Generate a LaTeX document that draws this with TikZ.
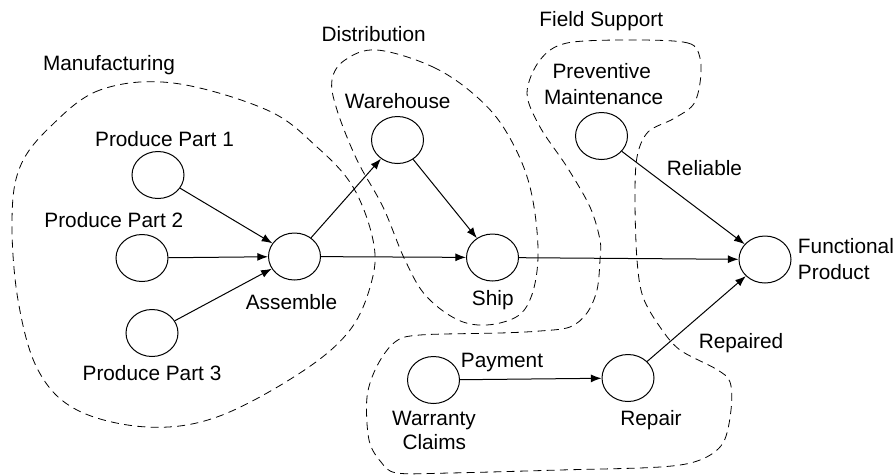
\documentclass[tikz,border=0pt]{standalone}
\usepackage{fontspec}
\setmainfont{Liberation Sans}
\usetikzlibrary{shapes.geometric,arrows.meta}
\newcommand\lblfont{\fontsize{15.6pt}{19pt}\selectfont}
\tikzset{
  proc/.style={ellipse, draw, line width=0.75pt, minimum width=39pt,
    minimum height=35.25pt, inner sep=0pt},
  lbl/.style={anchor=base, inner sep=0pt, font=\lblfont},
  lblw/.style={anchor=base west, inner sep=0pt, font=\lblfont},
  arr/.style={-{Latex[length=8pt,width=6pt]}, line width=0.75pt},
  region/.style={dashed, dash pattern=on 6pt off 4pt, line width=0.6pt}
}
\begin{document}
\begin{tikzpicture}[x=0.75pt, y=-0.75pt]
\useasboundingbox (0,0) rectangle (896,475);

% ---- group outlines ----
\draw[region] plot[smooth cycle, tension=0.6] coordinates {
  (173,83) (100,90) (50,127) (20,167) (12,220) (18,300) (38,370) (77,410)
  (147,427) (217,417) (300,373) (350,330) (372,280) (373,240) (353,187)
  (317,147) (267,110)};
\draw[region] plot[smooth cycle, tension=0.6] coordinates {
  (377,50) (433,67) (477,97) (507,133) (530,187) (538,257) (527,306)
  (500,323) (463,322) (427,297) (405,260) (383,207) (357,160) (337,110)
  (332,80) (345,60)};
\draw[region] plot[smooth cycle, tension=0.55] coordinates {
  (633,40) (688,43) (700,58) (700,83) (693,105) (673,119) (648,132)
  (637,157) (635,200) (637,260) (643,297) (660,327) (680,350) (716,369)
  (730,382) (731,410) (723,443) (700,460) (660,467) (560,470) (450,473)
  (397,473) (381,462) (369,440) (367,397) (377,366) (395,342) (420,335)
  (500,333) (540,331) (570,327) (587,313) (597,290) (600,260) (600,240)
  (590,207) (567,167) (540,127) (527,93) (540,60) (567,43)};

% ---- processes ----
\node[proc] (p1) at (158,175) {};
\node[proc] (p2) at (142,258) {};
\node[proc] (p3) at (152,333) {};
\node[proc] (asm) at (294.5,256.5) {};
\node[proc] (wh) at (397.5,140) {};
\node[proc] (ship) at (492.5,257.5) {};
\node[proc] (pm) at (601.5,136) {};
\node[proc] (fp) at (765,259.5) {};
\node[proc] (wc) at (433.5,380) {};
\node[proc] (rep) at (628,378) {};

% ---- labels ----
\node[lbl] (t-man) at (109,70.5) {Manufacturing};
\node[lbl] (t-dist) at (373.7,41.5) {Distribution};
\node[lbl] (t-fs) at (601.3,26.5) {Field Support};
\node[lbl] (t-p1) at (164.5,146.5) {Produce Part 1};
\node[lbl] (t-p2) at (113.8,227.3) {Produce Part 2};
\node[lbl] (t-p3) at (152,380.5) {Produce Part 3};
\node[lbl] (t-asm) at (291.5,309) {Assemble};
\node[lbl] (t-wh) at (397.7,108.3) {Warehouse};
\node[lbl] (t-ship) at (492.8,305) {Ship};
\node[lbl] (t-pm1) at (601.7,78.3) {Preventive};
\node[lbl] (t-pm2) at (603.7,104) {Maintenance};
\node[lbl] (t-rel) at (704.5,175) {Reliable};
\node[lblw] (t-fp1) at (797.7,253.3) {Functional};
\node[lblw] (t-fp2) at (797.7,279.3) {Product};
\node[lbl] (t-pay) at (502,367.3) {Payment};
\node[lbl] (t-wc1) at (434,425) {Warranty};
\node[lbl] (t-wc2) at (434.3,449) {Claims};
\node[lbl] (t-rep) at (651,425.7) {Repair};
\node[lbl] (t-repd) at (741,348.3) {Repaired};

% ---- flows ----
\draw[arr] (p1) -- (asm);
\draw[arr] (p2) -- (asm);
\draw[arr] (p3) -- (asm);
\draw[arr] (asm) -- (wh);
\draw[arr] (asm) -- (ship);
\draw[arr] (wh) -- (ship);
\draw[arr] (ship) -- (fp);
\draw[arr] (pm) -- (fp);
\draw[arr] (rep) -- (fp);
\draw[arr] (wc) -- (rep);
\end{tikzpicture}
\end{document}
